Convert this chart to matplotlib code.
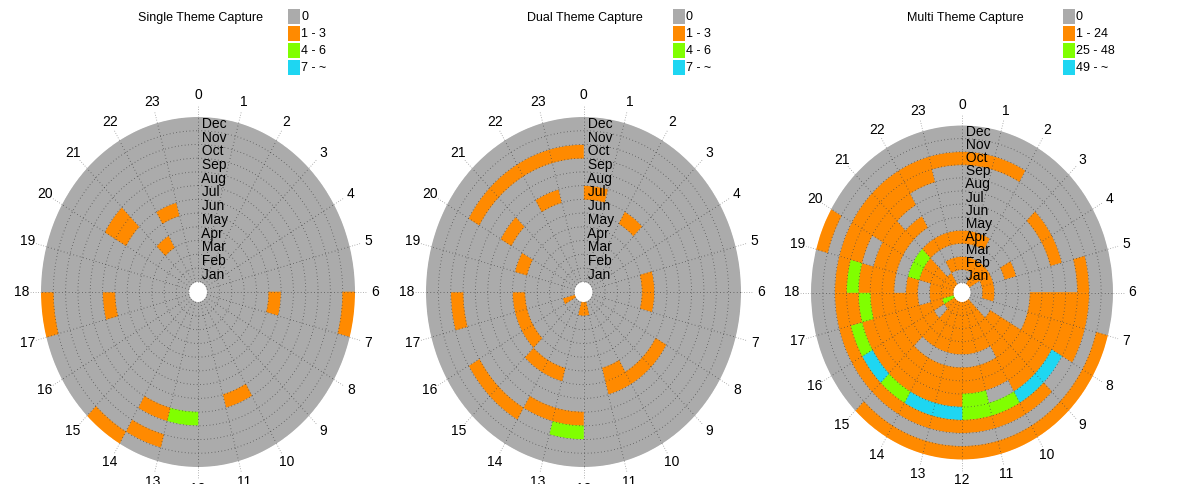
import numpy as np
import matplotlib
matplotlib.use("Agg")
import matplotlib.pyplot as plt
from matplotlib.patches import Rectangle

plt.rcParams['font.family'] = ['Liberation Sans', 'DejaVu Sans']

months = ['Jan', 'Feb', 'Mar', 'Apr', 'May', 'Jun',
          'Jul', 'Aug', 'Sep', 'Oct', 'Nov', 'Dec']
hours = list(range(24))
palette = ['#ABABAB', '#FF8A00', '#80FF00', '#1ED6F2']

titles = ['Single Theme Capture', 'Dual Theme Capture', 'Multi Theme Capture']
legend_labels = [['0', '1 - 3', '4 - 6', '7 - ~'],
                 ['0', '1 - 3', '4 - 6', '7 - ~'],
                 ['0', '1 - 24', '25 - 48', '49 - ~']]

# category per cell: one string per month (Jan..Dec), one char per hour 0..23
single = [
    "000000000000000000000000",  # Jan
    "000000000000000000000000",  # Feb
    "000000000000000000000000",  # Mar
    "000000000000000000000100",  # Apr
    "000000000000000000000000",  # May
    "000000100000000000000010",  # Jun
    "000000000000000001001000",  # Jul
    "000000000010000000001000",  # Aug
    "000000000000210000000000",  # Sep
    "000000000000000000000000",  # Oct
    "000000000000010000000000",  # Nov
    "000000100000001001000000",  # Dec
]

dual = [
    "000000000001100010000000",  # Jan
    "000000000000000000000000",  # Feb
    "000000000000000000000000",  # Mar
    "000000000000000000000000",  # Apr
    "000001100000000111010000",  # May
    "001000000010011000000000",  # Jun
    "100000001110000000001010",  # Jul
    "000000000000000000000000",  # Aug
    "000000000000110000000000",  # Sep
    "000000000000201101001111",  # Oct
    "000000000000000000000000",  # Nov
    "000000000000000000000000",  # Dec
]

multi = [
    "001100000111111121111100",  # Jan
    "111111100111111011111011",  # Feb
    "000000001111111110011000",  # Mar
    "110010001111111111122111",  # Apr
    "000000001100000111000000",  # May
    "000000111111111111111100",  # Jun
    "000000111111111111111000",  # Jul
    "000110111102111112101100",  # Aug
    "000000113322332321211110",  # Sep
    "110001110111111111111111",  # Oct
    "000000000000000000000000",  # Nov
    "000000011111111000010000",  # Dec
]

panels = [single, dual, multi]

W, H = 1183, 484
fig = plt.figure(figsize=(W / 100, H / 100), dpi=100)

# axes boxes in pixels: (center x, center y, rx, ry)
geo = [(198.0, 292.0, 157.0, 175.0),
       (583.5, 292.0, 157.5, 175.0),
       (962.0, 292.5, 151.0, 167.0)]
legend_x = [288, 673, 1063]
title_x = [200, 585, 965]

hole = 0.75
R = hole + 12

for p, grid in enumerate(panels):
    cx, cy, rx, ry = geo[p]
    ax = fig.add_axes([(cx - rx) / W, (H - cy - ry) / H, 2 * rx / W, 2 * ry / H],
                      projection='polar')
    ax.set_aspect('auto')
    ax.set_theta_zero_location('N')
    ax.set_theta_direction(-1)
    ax.set_ylim(0, R)
    ax.set_xticks([])
    ax.set_yticks([])
    ax.grid(False)
    ax.spines['polar'].set_visible(False)
    ax.patch.set_alpha(0)

    theta = np.deg2rad(np.array(hours) * 15 + 7.5)
    wdt = np.deg2rad(15)
    for m, row in enumerate(grid):
        cols = [palette[int(c)] for c in row]
        ax.bar(theta, 1.0, width=wdt, bottom=hole + m, color=cols,
               edgecolor=cols, linewidth=0.4, align='center')

    # ring circles
    tt = np.linspace(0, 2 * np.pi, 721)
    for k in range(1, 12):
        ax.plot(tt, np.full_like(tt, hole + k), color='#3a3a3a', lw=0.6,
                ls=(0, (1, 3)), alpha=0.8)
    # radial lines
    for h in hours:
        a = np.deg2rad(h * 15)
        ax.plot([a, a], [hole, R], color='#3a3a3a', lw=0.6, ls=(0, (1, 3)),
                alpha=0.8)
        ax.plot([a, a], [R, R * 1.07], color='#9a9a9a', lw=0.6,
                ls=(0, (1, 2)), clip_on=False)
        ax.text(a, R * 1.125, str(h), ha='center', va='center', fontsize=10,
                clip_on=False)
    for m, name in enumerate(months):
        ax.text(0.0, hole + m + 0.5, ' ' + name, ha='left', va='center',
                fontsize=10, color='black')

    fig.text(title_x[p] / W, 1 - 18 / H, titles[p], ha='center', va='center',
             fontsize=9)
    for i, lab in enumerate(legend_labels[p]):
        y0 = 9 + i * 17
        fig.patches.append(Rectangle((legend_x[p] / W, 1 - (y0 + 15) / H),
                                     12 / W, 15 / H, transform=fig.transFigure,
                                     facecolor=palette[i], edgecolor='none'))
        fig.text((legend_x[p] + 13) / W, 1 - (y0 + 8) / H, lab, ha='left',
                 va='center', fontsize=9)

fig.savefig('out.png', dpi=100, facecolor='white')
